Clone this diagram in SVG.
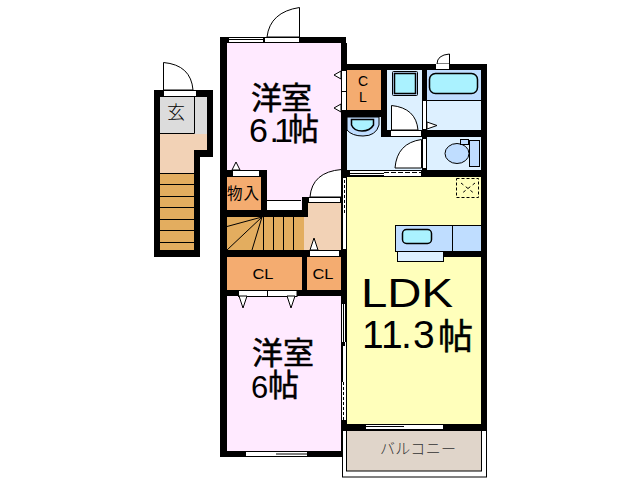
<svg xmlns="http://www.w3.org/2000/svg" width="640" height="480" viewBox="0 0 640 480">
<style>
.w{fill:#000}
.o{fill:#F4AC70}
.st{fill:#E3AD5F}
.be{fill:#F2D2B6}
.wh{fill:#fff;stroke:#000;stroke-width:1}
.ln{fill:none;stroke:#000;stroke-width:1}
.lb{fill:#DDF0FF}
.bl{fill:#BFDDFF;stroke:#000;stroke-width:1}
.cy{fill:#AAF2FF;stroke:#000;stroke-width:1.500}
.p{fill:#FFEAFF}
.d{fill:#fff}
text{font-family:"Liberation Sans","Noto Sans CJK JP",sans-serif;fill:#000}
.jp{font-family:"Noto Sans CJK JP",sans-serif}
.big{font-family:"Noto Sans CJK JP",sans-serif;stroke:#000;stroke-width:.5}
.thin{font-family:"Noto Sans CJK JP",sans-serif;font-weight:300}
.num{font-family:"Liberation Sans",sans-serif;stroke:none}
</style>
<rect width="640" height="480" fill="#fff"/>
<g id="entrance">
<path class="w" d="M154 90H213V157H200V257H154Z"/>
<rect x="160" y="97" width="47" height="37" fill="#DCDCDC"/>
<path class="ln" d="M194.500 97V133.500H160"/>
<path class="be" d="M160 134H207V150H194V173H160Z"/>
<rect class="st" x="160" y="173" width="34" height="77"/>
<path class="ln" d="M160 184.500H194M160 196.500H194M160 207.500H194M160 219.500H194M160 230.500H194M160 242.500H194M160 173.500H194"/>
<path class="wh" d="M163.500 90V62.500Q191 65 193 90Z"/>
<rect class="wh" x="163.500" y="90.500" width="33" height="6"/>
<text class="thin" x="176" y="119" font-size="18" text-anchor="middle">玄</text>
</g>
<g id="room-upper">
<rect class="p" x="227" y="43" width="115" height="167"/>
<path class="w" d="M220 37H346V170H341V43H227V290H220Z"/>
<rect class="wh" x="228.500" y="37.500" width="35" height="2"/>
<rect class="wh" x="228.500" y="39.500" width="35" height="3"/>
<path class="wh" d="M299.500 37V7.500Q270 12 267 37Z"/>
<rect class="wh" x="264.500" y="37.500" width="35" height="5"/>
<text class="big" font-size="31"><tspan x="251 281" y="109">洋室</tspan><tspan class="num" font-size="34" x="249 269.500 274" y="142">6.1</tspan><tspan x="288" y="140">帖</tspan></text>
</g>
<g id="room-lower">
<rect class="p" x="227" y="296" width="115" height="155"/>
<path class="w" d="M220 290H227V451H341V290H347V430H346V457H220Z"/>
<rect class="wh" x="245.500" y="451.500" width="62" height="5"/>
<path class="ln" d="M276 454H307"/>
<rect class="d" x="342" y="304" width="4" height="116"/>
<path class="ln" d="M343.500 304V342M345.500 304V342"/>
<path class="w" d="M342 342H345V346H342Z"/>
<path class="ln" d="M342.500 346V382"/>
<path class="ln" d="M343.500 382V420" stroke-dasharray="3 2"/>
<text class="big" font-size="31"><tspan x="252 283" y="364">洋室</tspan><tspan class="num" x="251" y="398">6</tspan><tspan x="268" y="396">帖</tspan></text>
</g>
<g id="closet-items">
<rect class="o" x="227" y="177" width="34" height="33"/>
<path class="w" d="M227 170H267V210H302V197H308V217H227V210H261V177H227Z"/>
<rect x="267" y="201" width="34" height="9" fill="#fff"/>
<path class="ln" d="M267 200.500H301"/>
<rect class="wh" x="232.500" y="170.500" width="27" height="6"/>
<path class="wh" d="M232 170L236 162L240 170Z"/>
<text class="jp" x="227" y="199" font-size="15.500" textLength="32">物入</text>
</g>
<g id="stairs">
<rect class="st" x="227" y="217" width="77" height="33"/>
<path class="ln" d="M263.500 217V250M273.500 217V250M283.500 217V250M293.500 217V250M262 217L227 226.500M262 217L227 250M262 217L252 250"/>
</g>
<g id="hall">
<path class="be" d="M308 203H342V250H304V217H308Z"/>
<path class="wh" d="M341.500 169.500V197H310Q312 172 341.500 169.500Z"/>
<rect class="wh" x="308.500" y="197.500" width="32" height="5"/>
</g>
<g id="closets">
<path class="w" d="M227 250H347V296H220V290H341V257H307V290H302V257H227Z"/>
<rect class="o" x="227" y="257" width="75" height="33"/>
<rect class="o" x="307" y="257" width="34" height="33"/>
<rect class="wh" x="309.500" y="250.500" width="30" height="6"/>
<path class="wh" d="M310 250L314 238L318 250Z"/>
<rect class="wh" x="238.500" y="290.500" width="58.500" height="6"/>
<path class="ln" d="M267.500 290V296"/>
<path class="wh" d="M239 296L243 308L247 296Z"/>
<path class="wh" d="M287 296L291 308L295 296Z"/>
<text x="252.500" y="279" font-size="14" textLength="21" lengthAdjust="spacingAndGlyphs">CL</text>
<text x="312.500" y="279" font-size="14" textLength="21" lengthAdjust="spacingAndGlyphs">CL</text>
</g>
<g id="ldk">
<rect x="347" y="177" width="134" height="247" fill="#FFFFBB"/>
<path class="w" d="M341 170H487V430H345V424H481V177H347V250H341Z"/>
<rect class="wh" x="342.500" y="177.500" width="4" height="72"/>
<path class="ln" d="M344.500 180V214" stroke-dasharray="3 2"/>
<rect x="350" y="170" width="71" height="6" fill="#fff"/>
<path class="ln" d="M350 170.500H421M350 173.500H384M350 175.500H384"/>
<path class="ln" d="M384 172.500H421" stroke-dasharray="5 2"/>
<rect class="ln" x="456.500" y="178.500" width="22" height="19" stroke-dasharray="3 2"/>
<path class="ln" d="M461 183L475 194M475 183L461 194" stroke-dasharray="3 3"/>
<rect class="bl" x="395.500" y="225.500" width="86" height="26"/>
<path class="ln" d="M452.500 225V251"/>
<rect class="cy" x="402.500" y="229.500" width="29" height="14" rx="4"/>
<rect x="444" y="251" width="37" height="6" class="w"/>
<rect x="397.500" y="251.500" width="46" height="10" fill="#DDF0FF" stroke="#000"/>
<rect class="wh" x="365.500" y="424.500" width="78" height="5"/>
<path class="ln" d="M365 426.500H404"/>
<text x="361" y="307" font-size="40" textLength="92" lengthAdjust="spacingAndGlyphs">LDK</text>
<text font-size="39"><tspan x="362 381 401 413" y="348">11.3</tspan><tspan class="big" font-size="35" x="438" y="349">帖</tspan></text>
</g>
<g id="balcony">
<rect x="342.500" y="430.500" width="144" height="46.500" fill="#fff" stroke="#000"/>
<rect x="346.500" y="430.500" width="135" height="40.500" fill="#E0D5CA" stroke="#000"/>
<text class="thin" x="380" y="454" font-size="15" textLength="76" style="fill:#333">バルコニー</text>
</g>
<g id="wet-area">
<rect class="lb" x="347" y="117" width="134" height="53"/>
<rect class="lb" x="387" y="70" width="94" height="60"/>
<path class="w" d="M341 43H347V170H341ZM347 64H487V177H481V70H427V130H481V137H427V170H422V137H381V117H347V110H381V70H387V130H422V70H347Z"/>
<rect class="o" x="347" y="70" width="34" height="40"/>
<rect x="427" y="70" width="54" height="30" fill="#BFDDFF"/>
<path class="ln" d="M427 100.500H481"/>
<rect class="cy" x="429.500" y="73.500" width="48" height="20" rx="6"/>
<rect fill="#BFDDFF" stroke="#000" x="392.500" y="71.500" width="25" height="24" rx="1"/>
<rect class="cy" x="394.500" y="73.500" width="21" height="20"/>
<path class="wh" d="M391.500 105.500V130H418Q416 108 391.500 105.500Z"/>
<rect class="wh" x="390.500" y="130.500" width="31" height="6"/>
<rect class="wh" x="422.500" y="100.500" width="4" height="29"/>
<rect class="wh" x="422.500" y="138.500" width="4" height="30"/>
<path class="wh" d="M427 122L437 125.500L427 129Z"/>
<path fill="#BFDDFF" stroke="#000" d="M347 117H379V125Q376 136 363 136Q352 136 347 130Z"/>
<path class="cy" d="M351.500 119.500H373.500V125Q370 131 362 131Q354 131 351.500 125Z"/>
<path class="wh" d="M421.500 139.500V168H395Q397 143 421.500 139.500Z"/>
<ellipse fill="#BFDDFF" stroke="#000" cx="457" cy="153.500" rx="12" ry="10"/>
<rect fill="#BFDDFF" stroke="#000" x="460.500" y="139.500" width="8" height="5"/>
<rect fill="#BFDDFF" stroke="#000" x="469.500" y="140.500" width="10" height="26"/>
<path class="wh" d="M437 64Q437 55 449.500 54V64Z"/>
<rect class="d" x="436" y="64" width="13" height="5"/>
<rect class="wh" x="341.500" y="70.500" width="5" height="40"/>
<path class="ln" d="M341 91.500H347"/>
<path class="wh" d="M341 71L334 75L341 79Z"/>
<path class="wh" d="M341 104L334 108L341 112Z"/>
<text x="363" y="86" font-size="14" text-anchor="middle">C</text>
<text x="363" y="102" font-size="14" text-anchor="middle">L</text>
</g>
</svg>
